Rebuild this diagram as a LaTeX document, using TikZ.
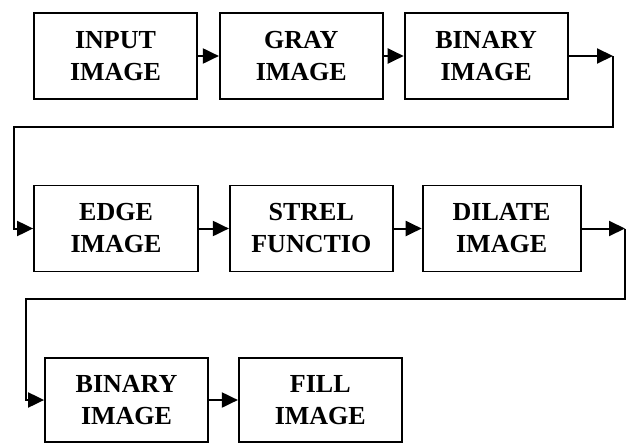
\documentclass[tikz,border=0pt]{standalone}
\usepackage{fontspec}
\setmainfont{Liberation Serif}
\usepackage{tikz}
\usetikzlibrary{arrows.meta, positioning}

\begin{document}
\begin{tikzpicture}[x=1pt,y=-1pt,>={Triangle[length=16pt,width=15pt]},
                block/.style={draw, rectangle, align=center, minimum height=86pt, minimum width=163pt, line width=1.8pt, inner sep=0pt,
                              font=\fontsize{26}{32}\selectfont\bfseries},
                link/.style={line width=2pt}
                ]
                \useasboundingbox (0,0) rectangle (628,444);
                % first row
                \node[block] (input) at (115.5,56) {INPUT\\IMAGE};
                \node[block, right=21pt of input] (gray) {GRAY\\IMAGE};
                \node[block, right=20pt of gray] (binary) {BINARY\\IMAGE};
                % second row
                \node[block, minimum width=164pt] (edge) at (116,228.5) {EDGE\\IMAGE};
                \node[block, right=30pt of edge] (strel) {STREL\\FUNCTIO};
                \node[block, minimum width=158pt, right=28pt of strel] (dilate) {DILATE\\IMAGE};
                % third row
                \node[block, minimum height=84pt] (binfill) at (126.5,400) {BINARY\\IMAGE};
                \node[block, minimum height=84pt, right=29pt of binfill] (fill) {FILL\\IMAGE};
                % turning points
                \coordinate (turnA) at (613,56);
                \coordinate (turnB) at (14,127);
                \coordinate (turnC) at (625,228.5);
                \coordinate (turnD) at (26,299);
                \draw[->,link] (input) -- (gray);
                \draw[->,link] (gray) -- (binary);
                \draw[->,link] (binary.east) -- (turnA);
                \draw[->,link] (turnA) |- (turnB) |- (edge.west);
                \draw[->,link] (edge) -- (strel);
                \draw[->,link] (strel) -- (dilate);
                \draw[->,link] (dilate.east) -- (turnC);
                \draw[->,link] (turnC) |- (turnD) |- (binfill.west);
                \draw[->,link] (binfill) -- (fill);
        \end{tikzpicture}
\end{document}
